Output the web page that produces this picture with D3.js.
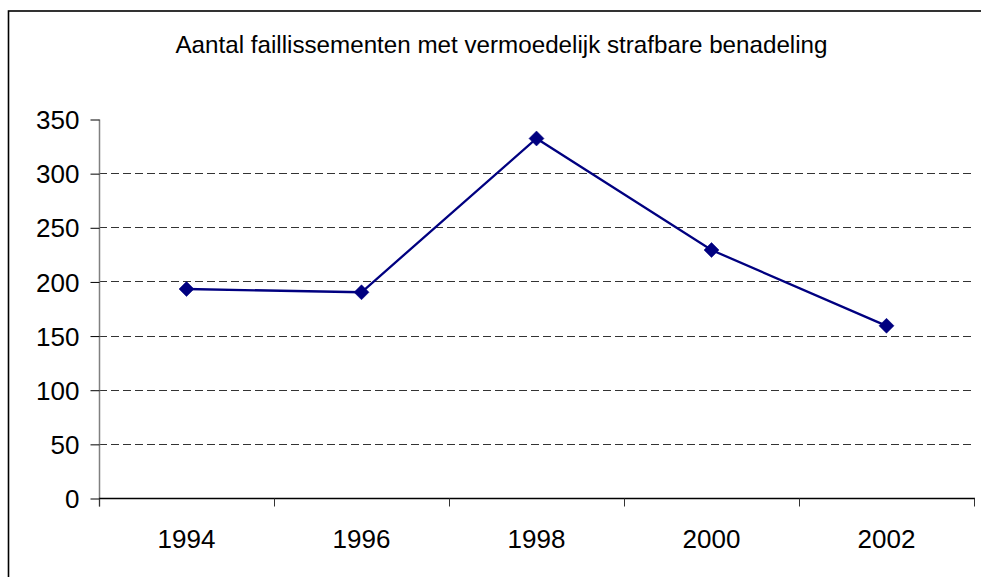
<!DOCTYPE html>
<html>
<head>
<meta charset="utf-8">
<script src="https://cdn.jsdelivr.net/npm/d3@7"></script>
<style>
  html, body { margin: 0; padding: 0; background: #fff; }
  svg { display: block; }
  text { font-family: "Liberation Sans", Arial, sans-serif; fill: #000; }
</style>
</head>
<body>
<svg id="chart" width="981" height="577"></svg>
<script>
const title = "Aantal faillissementen met vermoedelijk strafbare benadeling";
const years = ["1994", "1996", "1998", "2000", "2002"];
const values = [193, 190, 332, 229, 159];
const yTicks = [0, 50, 100, 150, 200, 250, 300, 350];
const gridTicks = [50, 100, 150, 200, 250, 300];

const svg = d3.select("#chart");
const m = { left: 99, right: 974, top: 119, bottom: 498 };

// outer frame (extends beyond right/bottom edges)
svg.append("rect")
  .attr("x", 8.5).attr("y", 11)
  .attr("width", 1000).attr("height", 1000)
  .attr("fill", "none").attr("stroke", "#000").attr("stroke-width", 1.6);

svg.append("text")
  .attr("x", 501.5).attr("y", 53)
  .attr("text-anchor", "middle")
  .style("font-size", "24.2px")
  .text(title);

const x = d3.scaleBand().domain(years).range([m.left, m.right]).padding(0);
const y = d3.scaleLinear().domain([0, 350]).range([m.bottom, m.top]);

// gridlines
svg.append("g").selectAll("line").data(gridTicks).join("line")
  .attr("x1", m.left).attr("x2", m.right)
  .attr("y1", d => Math.round(y(d)) + 0.5).attr("y2", d => Math.round(y(d)) + 0.5)
  .attr("stroke", "#333").attr("stroke-width", 1)
  .attr("stroke-dasharray", "8,4");

// y axis
const yAxis = d3.axisLeft(y).tickValues(yTicks).tickSize(9).tickPadding(11).tickSizeOuter(0);
const gy = svg.append("g").attr("transform", `translate(${m.left + 0.5},0.5)`).call(yAxis);
gy.select(".domain").attr("stroke", "#808080").attr("stroke-width", 1.5)
  .attr("d", `M0,${m.top}V${m.bottom + 8}`);
gy.selectAll(".tick line").attr("stroke", "#000");
gy.selectAll(".tick text").style("font-size", "26px").attr("dy", "0.35em")
  .style("font-family", "'Liberation Sans', Arial, sans-serif").attr("fill", "#000");

// x axis with ticks at band boundaries
const gx = svg.append("g").attr("transform", `translate(0,${m.bottom + 0.5})`);
gx.append("line").attr("x1", m.left).attr("x2", m.right + 1)
  .attr("stroke", "#000").attr("stroke-width", 1.5);
const bounds = years.map(d => x(d)).concat([x(years[years.length - 1]) + x.bandwidth()]);
gx.selectAll("line.tk").data(bounds).join("line").attr("class", "tk")
  .attr("x1", d => Math.round(d) + 0.5).attr("x2", d => Math.round(d) + 0.5)
  .attr("y1", 0).attr("y2", 8).attr("stroke", "#333").attr("stroke-width", 1);
gx.selectAll("text").data(years).join("text")
  .attr("x", d => x(d) + x.bandwidth() / 2)
  .attr("y", 49)
  .attr("text-anchor", "middle")
  .style("font-size", "26px")
  .text(d => d);

// line
const pts = years.map((d, i) => [x(d) + x.bandwidth() / 2, y(values[i])]);
svg.append("path")
  .attr("d", d3.line()(pts))
  .attr("fill", "none").attr("stroke", "#000080").attr("stroke-width", 2.3);

// diamond markers
svg.append("g").selectAll("path").data(pts).join("path")
  .attr("transform", d => `translate(${d[0]},${d[1]})`)
  .attr("d", "M0,-7.5L7.5,0L0,7.5L-7.5,0Z")
  .attr("fill", "#000080").attr("stroke", "#000080").attr("stroke-width", 0.5);
</script>
</body>
</html>
